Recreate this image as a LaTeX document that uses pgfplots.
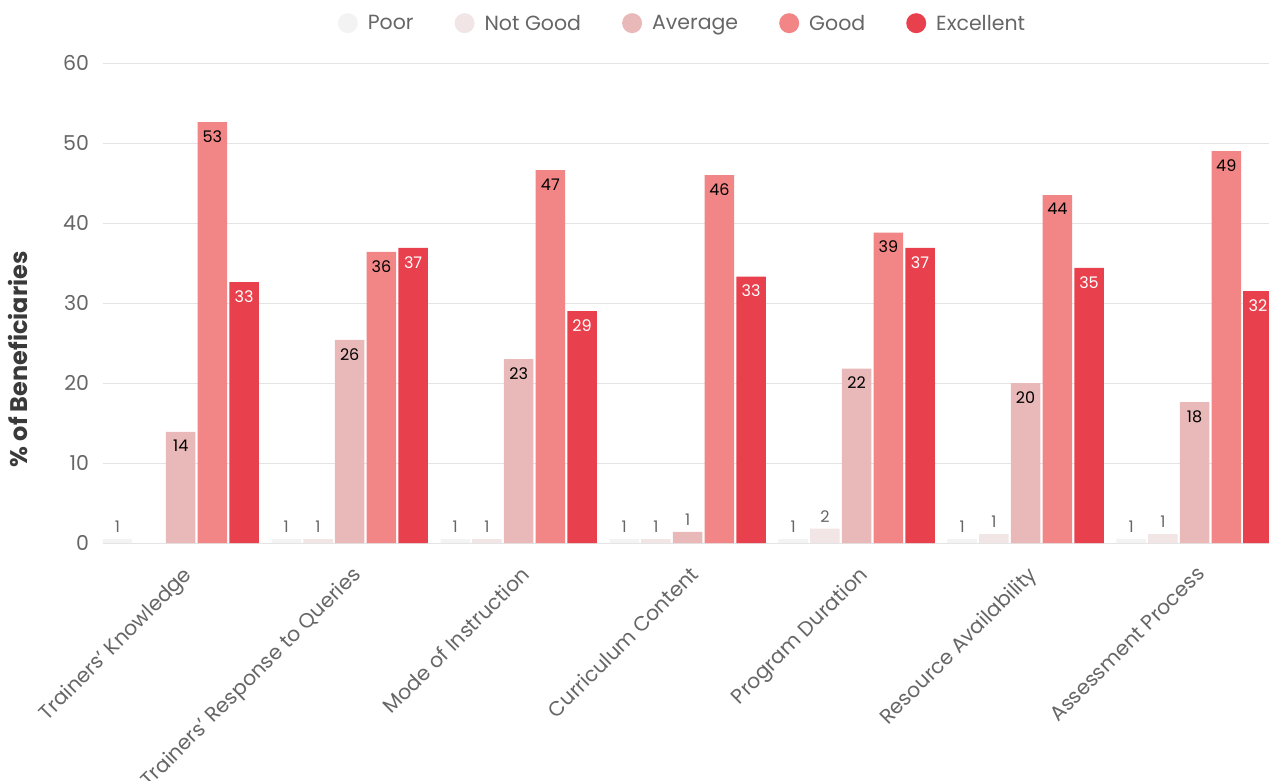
\documentclass[border=0pt]{standalone}
\usepackage{pgfplots}
\pgfplotsset{compat=1.18}
\usepackage{pgfplotstable}
\usepackage{fontspec}
\setmainfont{Poppins}
\definecolor{cPoor}{HTML}{F3F3F3}
\definecolor{cNot}{HTML}{F1E5E5}
\definecolor{cAvg}{HTML}{E9B8B8}
\definecolor{cGood}{HTML}{F28585}
\definecolor{cExc}{HTML}{E8414D}
\definecolor{txt}{HTML}{666666}
\definecolor{ylab}{HTML}{3A3A3A}
\definecolor{gridc}{HTML}{E4E4E4}

\pgfplotstableread{
x h lab
0 0.5 1
1 0.5 1
2 0.5 1
3 0.5 1
4 0.5 1
5 0.5 1
6 0.5 1
}\poor
\pgfplotstableread{
x h lab
0 0.0 {}
1 0.5 1
2 0.5 1
3 0.5 1
4 1.8 2
5 1.1 1
6 1.1 1
}\notgood
\pgfplotstableread{
x h lab
0 13.9 14
1 25.4 26
2 23.0 23
3 1.4 1
4 21.8 22
5 20.0 20
6 17.6 18
}\average
\pgfplotstableread{
x h lab
0 52.6 53
1 36.4 36
2 46.6 47
3 46.0 46
4 38.8 39
5 43.5 44
6 49.0 49
}\good
\pgfplotstableread{
x h lab
0 32.6 33
1 36.9 37
2 29.0 29
3 33.3 33
4 36.9 37
5 34.4 35
6 31.5 32
}\excellent

\newcommand\lblcontent{\pgfmathparse{\hval<5 ? 1 : 0}\ifdim\pgfmathresult pt>0.5pt\color{txt}\fi\pgfplotspointmeta}

\begin{document}
\begin{tikzpicture}
\path[use as bounding box] (-103pt,-238pt) rectangle (1166pt,543pt);
\begin{axis}[
  at={(0pt,0pt)}, anchor=south west,
  scale only axis, width=1166pt, height=480pt,
  xmin=-0.46, xmax=6.44, ymin=0, ymax=60,
  ybar=2.2pt, bar width=29.5pt,
  legend image code/.code={\fill[#1,draw=none] (0pt,0pt) circle (10pt);},
  axis line style={draw=none},
  major tick length=0pt,
  ytick={0,10,...,60},
  ymajorgrids, grid style={gridc, line width=0.9pt},
  xtick={0,...,6},
  xticklabels={Trainers' Knowledge, Trainers' Response to Queries, Mode of Instruction, Curriculum Content, Program Duration, Resource Availability, Assessment Process},
  xticklabel style={xshift=1pt, yshift=-17pt, rotate=45, anchor=north east, font=\fontsize{20.5}{22}\selectfont, text=txt},
  yticklabel style={/pgf/number format/assume math mode=true, font=\fontsize{20.5}{22}\selectfont, text=txt, xshift=-10.5pt},
  ylabel={\% of Beneficiaries},
  ylabel style={at={(axis description cs:-0.073,0.383)}, anchor=center, font=\fontsize{24}{26}\selectfont\bfseries, text=ylab},
  legend columns=5,
  legend style={draw=none, fill=none, at={(0.497,1.083)}, anchor=center,
    font=\fontsize{20.5}{22}\selectfont, text=txt,
    /tikz/every odd column/.append style={column sep=8pt},
    /tikz/every even column/.append style={column sep=39pt}},
  point meta=explicit symbolic,
  visualization depends on={\thisrow{h} \as \hval},
  nodes near coords={\lblcontent},
  every node near coord/.append style={anchor=north, yshift={(\hval<5)*26.5-5}, font=\fontsize{16}{18}\selectfont},
]
\addplot[fill=cPoor, draw=none] table[x=x, y=h, meta=lab] {\poor};
\addplot[fill=cNot, draw=none] table[x=x, y=h, meta=lab] {\notgood};
\addplot[fill=cAvg, draw=none, every node near coord/.append style={text=black}] table[x=x, y=h, meta=lab] {\average};
\addplot[fill=cGood, draw=none, every node near coord/.append style={text=black}] table[x=x, y=h, meta=lab] {\good};
\addplot[fill=cExc, draw=none, every node near coord/.append style={text=white}] table[x=x, y=h, meta=lab] {\excellent};
\legend{Poor, Not Good, Average, Good, Excellent}
\end{axis}
\end{tikzpicture}
\end{document}
